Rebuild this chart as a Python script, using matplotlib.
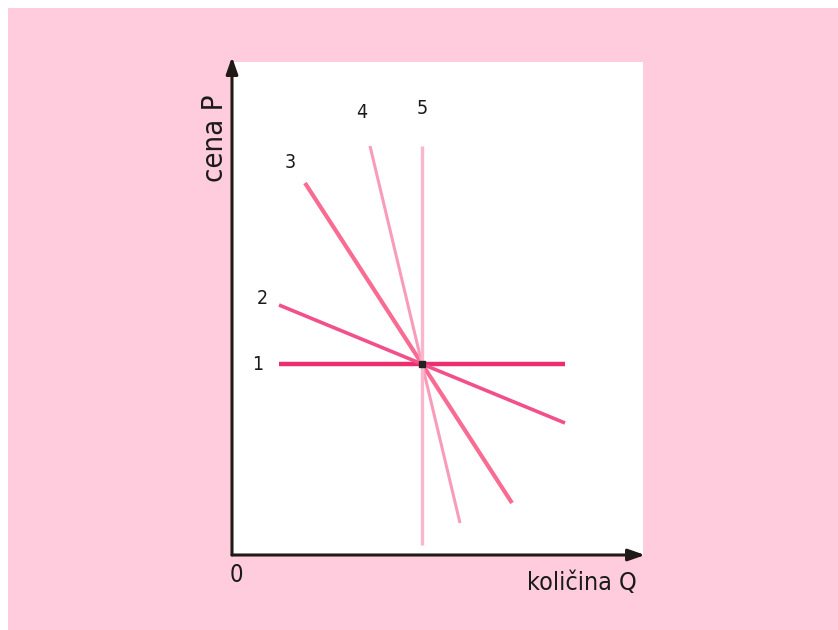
import matplotlib
matplotlib.use("Agg")
import matplotlib.pyplot as plt
from matplotlib.patches import Rectangle

# Data (units: axis scale, origin at the axes corner)
line_labels = ["1", "2", "3", "4", "5"]
x_start = [47, 47, 73, 138, 190]
y_start = [191, 250, 372, 409, 409]
x_end = [333, 333, 280, 228, 190]
y_end = [191, 132, 52, 32, 10]
line_colors = ["#EC2F6C", "#F2508A", "#F86C94", "#F89CB9", "#F9B6CC"]
line_widths = [3.2, 2.6, 3.0, 2.2, 2.4]
label_x = [26, 30, 58, 130, 190]
label_y = [191, 257, 392, 442, 446]
equilibrium = (190, 191)
x_max, y_max = 411, 493
axis_labels = ("količina Q", "cena P", "0")

W, H = 838, 630
fig = plt.figure(figsize=(W / 100, H / 100), dpi=100)
fig.patch.set_facecolor("white")
fig.patches.append(Rectangle((8 / W, 0), 1 - 8 / W, 1 - 8 / H, transform=fig.transFigure,
                             facecolor="#FFCCDD", edgecolor="none", zorder=-10))

ax = fig.add_axes([232 / W, (H - 555) / H, 411 / W, 493 / H])
ax.set_zorder(1)
ax.set_facecolor("white")
ax.set_xlim(0, x_max)
ax.set_ylim(0, y_max)
for s in ax.spines.values():
    s.set_visible(False)
ax.set_xticks([])
ax.set_yticks([])

fam = ["DejaVu Sans"]
stretch = "condensed"

for xs, ys, xe, ye, c, lw in zip(x_start, y_start, x_end, y_end, line_colors, line_widths):
    ax.plot([xs, xe], [ys, ye], color=c, lw=lw, solid_capstyle="butt", zorder=3)

for lab, lx, ly in zip(line_labels, label_x, label_y):
    ax.text(lx, ly, lab, ha="center", va="center", fontsize=14, family=fam,
            fontstretch=stretch, color="#1a1a1a", zorder=4)

ax.plot([equilibrium[0]], [equilibrium[1]], marker="s", ms=5, color="#222222",
        mec="#222222", zorder=5)

# axes with arrows
ax.annotate("", xy=(0, 1.0102), xytext=(0, 0), xycoords="axes fraction",
            arrowprops=dict(arrowstyle="-|>,head_length=1.0,head_width=0.35",
                            color="#1f1a17", lw=2.2, shrinkA=0, shrinkB=0),
            annotation_clip=False, zorder=6)
ax.annotate("", xy=(1.005, 0), xytext=(0, 0), xycoords="axes fraction",
            arrowprops=dict(arrowstyle="-|>,head_length=1.0,head_width=0.35",
                            color="#1f1a17", lw=2.2, shrinkA=0, shrinkB=0),
            annotation_clip=False, zorder=6)

fig.text(236 / W, 1 - 575 / H, axis_labels[2], ha="center", va="center",
         fontsize=17, family=fam, fontstretch=stretch, color="#1a1a1a", zorder=5)
fig.text(582 / W, 1 - 583 / H, axis_labels[0], ha="center", va="center",
         fontsize=18, family=fam, fontstretch=stretch, color="#1a1a1a", zorder=5)
fig.text(215 / W, 1 - 138 / H, axis_labels[1], ha="center", va="center",
         fontsize=21, family=fam, fontstretch=stretch, color="#1a1a1a", rotation=90, zorder=5)

fig.savefig("out.png", dpi=100, facecolor=fig.get_facecolor())
